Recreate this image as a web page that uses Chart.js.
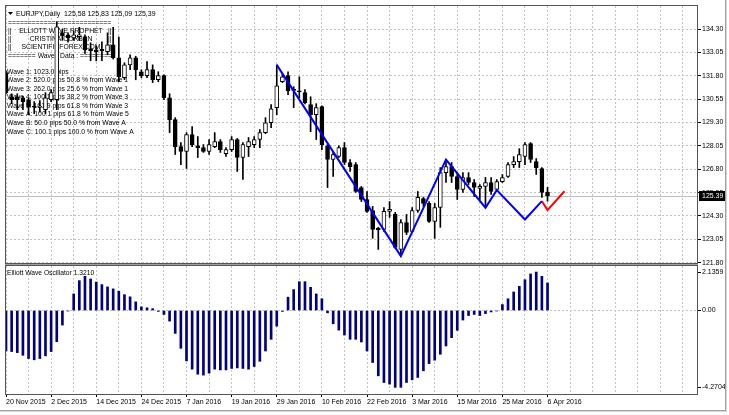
<!DOCTYPE html>
<html>
<head>
<meta charset="utf-8">
<script src="https://cdn.jsdelivr.net/npm/chart.js@4.4.1/dist/chart.umd.min.js"></script>
<style>
  html, body { margin: 0; padding: 0; background: #fff; }
  #wrap { position: relative; width: 729px; height: 415px; overflow: hidden; }
  #priceChart { position: absolute; left: 0; top: 0; }
  #oscChart { position: absolute; left: 0; top: 264px; }
  #winFrame { position: absolute; left: -1px; top: -1px; width: 726px; height: 411px;
    border-right: 1px solid #a0a0a0; border-bottom: 1px solid #a0a0a0;
    box-shadow: 1px 1px 0 #d8d8d8; pointer-events: none; }
</style>
</head>
<body>
<div id="wrap">
  <canvas id="priceChart" width="729" height="272"></canvas>
  <canvas id="oscChart" width="729" height="151"></canvas>
  <div id="winFrame"></div>
</div>
<script>
// EURJPY daily candles, 20 Nov 2015 .. 6 Apr 2016 (one entry per bar)
const opens = [131.97, 130.68, 130.68, 130.63, 130.52, 130.17, 130.12, 129.99, 130.52, 130.52,
  134.10, 133.99, 133.83, 133.90, 133.88, 133.25, 133.19, 133.22, 133.09, 133.46,
  132.77, 131.70, 132.39, 132.77, 132.02, 131.81, 132.13, 131.59, 131.81, 130.63,
  129.46, 128.01, 127.75, 128.65, 128.06, 127.96, 127.75, 128.01, 128.28, 127.64,
  127.85, 128.39, 127.43, 128.01, 128.12, 128.39, 128.76, 129.29, 130.10, 131.49,
  131.81, 131.08, 131.00, 130.90, 130.26, 129.72, 130.15, 128.06, 127.32, 127.48,
  127.96, 127.16, 127.05, 125.82, 125.18, 124.59, 123.64, 123.58, 124.54, 124.38,
  122.51, 123.95, 123.47, 124.59, 125.23, 124.97, 124.01, 124.75, 126.62, 126.94,
  126.41, 125.72, 126.36, 126.09, 125.77, 125.88, 126.09, 125.72, 126.14, 126.41,
  127.05, 127.21, 127.48, 128.17, 127.21, 126.84, 125.58];
const highs = [132.05, 130.84, 130.84, 130.70, 130.60, 130.42, 130.47, 130.90, 131.06, 134.69,
  134.30, 134.10, 134.20, 134.40, 134.00, 133.57, 133.40, 133.62, 134.10, 134.40,
  133.88, 132.50, 132.93, 132.85, 132.13, 132.56, 132.39, 132.02, 131.86, 130.84,
  129.56, 128.23, 128.76, 129.08, 128.55, 128.12, 128.39, 128.76, 128.39, 127.96,
  128.55, 128.45, 128.23, 128.50, 128.55, 128.92, 129.56, 130.26, 132.39, 131.91,
  132.02, 131.22, 131.75, 131.06, 130.68, 130.31, 130.20, 128.12, 127.75, 128.06,
  128.23, 127.32, 127.16, 125.88, 125.61, 124.81, 123.69, 124.75, 125.07, 124.49,
  124.11, 124.38, 124.75, 125.61, 125.29, 125.07, 124.97, 126.89, 127.32, 127.16,
  126.62, 126.62, 126.62, 126.25, 125.98, 126.36, 126.36, 126.25, 126.52, 127.16,
  127.48, 127.90, 128.23, 128.23, 127.37, 126.89, 125.83];
const lows = [130.85, 130.31, 129.99, 129.99, 129.72, 129.78, 129.85, 129.78, 130.42, 129.99,
  133.70, 133.60, 133.70, 133.70, 133.00, 132.61, 132.60, 132.61, 132.93, 132.70,
  131.49, 131.60, 132.13, 131.59, 131.70, 131.70, 131.44, 131.49, 130.52, 128.76,
  127.59, 127.05, 126.84, 128.01, 127.43, 127.70, 127.59, 127.96, 127.70, 127.48,
  127.75, 126.68, 126.25, 127.48, 127.96, 127.96, 128.70, 129.03, 129.72, 131.44,
  130.79, 130.10, 130.63, 130.30, 128.81, 128.39, 127.85, 125.82, 126.41, 127.43,
  127.05, 126.68, 125.56, 125.07, 124.49, 123.10, 122.51, 123.47, 124.22, 122.56,
  122.20, 123.30, 123.42, 124.49, 124.81, 123.95, 123.10, 123.69, 126.09, 126.09,
  125.18, 125.56, 125.98, 125.34, 125.18, 124.80, 125.45, 125.61, 126.09, 126.36,
  126.89, 126.89, 127.05, 127.16, 126.52, 125.29, 125.09];
const closes = [130.90, 130.52, 130.52, 130.42, 130.15, 130.12, 130.17, 130.63, 130.90, 134.42,
  133.94, 133.83, 133.99, 134.00, 133.19, 133.15, 133.09, 133.15, 133.46, 132.77,
  131.75, 132.39, 132.77, 132.13, 131.81, 132.13, 131.59, 131.81, 130.63, 129.46,
  128.01, 127.75, 128.65, 128.12, 127.96, 127.75, 128.12, 128.28, 127.85, 127.85,
  128.39, 127.43, 128.12, 128.28, 128.39, 128.76, 129.29, 130.04, 131.27, 131.75,
  131.00, 131.02, 130.95, 130.36, 129.72, 130.10, 128.12, 127.32, 127.59, 127.96,
  127.16, 126.94, 125.61, 125.18, 124.54, 123.58, 123.55, 124.54, 124.65, 122.62,
  123.95, 123.42, 124.59, 125.29, 124.97, 124.01, 124.75, 126.62, 126.94, 126.41,
  125.72, 126.36, 126.09, 125.82, 125.88, 126.09, 125.61, 126.14, 126.36, 127.05,
  127.21, 127.59, 128.12, 127.32, 126.89, 125.56, 125.39];

// Elliott Wave Oscillator, one value per bar
const oscValues = [-2.25, -2.28, -2.34, -2.49, -2.67, -2.74, -2.67, -2.52, -2.28, -1.73,
  -0.81, -0.03, 0.92, 1.66, 1.90, 1.75, 1.58, 1.44, 1.31, 1.20,
  1.07, 0.88, 0.76, 0.48, 0.20, 0.15, 0.10, -0.05, -0.22, -0.59,
  -1.27, -2.10, -2.80, -3.26, -3.54, -3.59, -3.48, -3.26, -3.30, -3.30,
  -3.22, -3.19, -3.22, -3.26, -3.11, -2.82, -2.25, -1.60, -0.87, -0.05,
  0.74, 1.16, 1.60, 1.60, 1.29, 0.92, 0.65, -0.13, -0.74, -1.09,
  -1.36, -1.60, -1.60, -1.75, -2.25, -2.89, -3.63, -4.00, -4.09, -4.2704,
  -4.27, -4.00, -3.85, -3.72, -3.35, -2.95, -2.76, -2.43, -1.97, -1.51,
  -1.10, -0.53, -0.28, -0.22, -0.28, -0.17, -0.08, -0.03, 0.33, 0.65,
  1.03, 1.34, 1.71, 2.03, 2.1359, 1.90, 1.53];

// wave zigzag (bar index, price)
const waveBars = [48, 70, 78, 85, 87, 92, 95];
const wavePrices = [132.39, 122.15, 127.32, 124.74, 125.68, 124.11, 125.09];
const projBars = [95, 96, 99];
const projPrices = [125.09, 124.61, 125.62];

// date labels, one every 8 bars
const dateLabels = ['20 Nov 2015', '2 Dec 2015', '14 Dec 2015', '24 Dec 2015', '7 Jan 2016',
  '19 Jan 2016', '29 Jan 2016', '10 Feb 2016', '22 Feb 2016', '3 Mar 2016',
  '15 Mar 2016', '25 Mar 2016', '6 Apr 2016'];
const priceTicks = [121.80, 123.05, 124.30, 125.55, 126.80, 128.05, 129.30, 130.55, 131.80, 133.05, 134.30];
const oscTicks = [-4.2704, 0, 2.1359];

const headerText = 'EURJPY,Daily  125,58 125,83 125,09 125,39';
const bannerLines = ['ELLIOTT WAVE PROPHET', 'CRISTINA CORBEN', 'SCIENTIFICFOREX.COM'];
const waveLines = [
  'Wave 1: 1023.0 pips',
  'Wave 2: 520.0 pips 50.8 % from Wave 1',
  'Wave 3: 262.0 pips 25.6 % from Wave 1',
  'Wave 4: 100.1 pips 38.2 % from Wave 3',
  'Wave 5: 161.9 pips 61.8 % from Wave 3',
  'Wave A: 100.1 pips 61.8 % from Wave 5',
  'Wave B: 50.0 pips 50.0 % from Wave A',
  'Wave C: 100.1 pips 100.0 % from Wave A'
];
const oscTitle = 'Elliott Wave Oscillator 1.3210';

const FONT = '"Liberation Sans", Arial, sans-serif';
Chart.defaults.font.family = FONT;
Chart.defaults.font.size = 7;
Chart.defaults.color = '#000';
Chart.defaults.animation = false;

const GRID = '#c4c4c4';
const barIdx = opens.map((_, i) => i);
const gridBars = [];
for (let b = 0; b <= 120; b += 4) gridBars.push(b);

function fillTo(ctx, ch, w) {
  let s = '';
  while (ctx.measureText(s + ch).width <= w) s += ch;
  return s;
}

function drawFrame(ctx, a) {
  ctx.save();
  ctx.strokeStyle = '#555';
  ctx.lineWidth = 1;
  ctx.strokeRect(a.left - 0.5, a.top - 0.5, a.right - a.left + 1, a.bottom - a.top + 1);
  ctx.restore();
}

// keep tick labels from pushing the plot area around
function noPad(s) {
  s.paddingTop = 0;
  s.paddingBottom = 0;
  s.paddingLeft = 0;
  s.paddingRight = 0;
}

// -------------------------------
// price panel
// -------------------------------
const priceOverlay = {
  id: 'priceOverlay',
  beforeDatasetsDraw(chart) {
    const { ctx, chartArea: a, scales } = chart;
    const last = closes[closes.length - 1];
    const py = Math.round(scales.y.getPixelForValue(last)) + 0.5;
    ctx.save();
    ctx.strokeStyle = '#c0c0c0';
    ctx.lineWidth = 1;
    ctx.beginPath();
    ctx.moveTo(a.left, py);
    ctx.lineTo(a.right, py);
    ctx.stroke();

    ctx.fillStyle = '#000';
    ctx.textBaseline = 'middle';
    ctx.beginPath();
    ctx.moveTo(8, 12); ctx.lineTo(13, 12); ctx.lineTo(10.5, 15);
    ctx.closePath();
    ctx.fill();
    ctx.font = '7px ' + FONT;
    ctx.fillText(headerText, 16, 14);

    ctx.font = '6.8px ' + FONT;
    ctx.fillText(fillTo(ctx, '=', 104), 8, 23);
    bannerLines.forEach((t, k) => {
      const yy = 31 + k * 8;
      ctx.textAlign = 'left';
      ctx.fillText('||', 8, yy);
      ctx.fillText('||', 108, yy);
      ctx.textAlign = 'center';
      ctx.fillText(t, 61, yy);
    });
    ctx.textAlign = 'left';
    const leftEq = fillTo(ctx, '=', 28);
    ctx.fillText(leftEq, 8, 56);
    const mid = ' Waves Data : ';
    const mx = 8 + ctx.measureText(leftEq).width;
    ctx.fillText(mid, mx, 56);
    const rx = mx + ctx.measureText(mid).width;
    ctx.fillText(fillTo(ctx, '=', 112 - rx), rx, 56);

    waveLines.forEach((t, k) => ctx.fillText(t, 7, 71.7 + k * 8.57));
    ctx.restore();
  },
  afterDraw(chart) {
    const { ctx, chartArea: a, scales } = chart;
    drawFrame(ctx, a);
    const last = closes[closes.length - 1];
    const py = Math.round(scales.y.getPixelForValue(last));
    ctx.save();
    ctx.fillStyle = '#000';
    ctx.fillRect(a.right + 2, py - 5, 27, 10);
    ctx.fillStyle = '#fff';
    ctx.font = '7px ' + FONT;
    ctx.textBaseline = 'middle';
    ctx.fillText(last.toFixed(2), a.right + 5, py + 0.5);
    ctx.restore();
  }
};

new Chart(document.getElementById('priceChart'), {
  type: 'bar',
  data: {
    datasets: [
      {
        type: 'line',
        data: waveBars.map((b, k) => ({ x: b, y: wavePrices[k] })),
        borderColor: '#0000ff',
        borderWidth: 2,
        pointRadius: 0,
        fill: false,
        order: 0
      },
      {
        type: 'line',
        data: projBars.map((b, k) => ({ x: b, y: projPrices[k] })),
        borderColor: '#ff0000',
        borderWidth: 2,
        pointRadius: 0,
        fill: false,
        order: 0
      },
      {
        data: barIdx.map(i => ({ x: i, y: [Math.min(opens[i], closes[i]), Math.max(opens[i], closes[i])] })),
        backgroundColor: barIdx.map(i => closes[i] >= opens[i] ? '#fff' : '#000'),
        borderColor: '#000',
        borderWidth: 1,
        borderSkipped: false,
        barThickness: 4,
        minBarLength: 1,
        grouped: false,
        order: 1
      },
      {
        data: barIdx.map(i => ({ x: i, y: [lows[i], highs[i]] })),
        backgroundColor: '#000',
        barThickness: 1,
        grouped: false,
        order: 2
      }
    ]
  },
  options: {
    responsive: false,
    layout: { padding: { left: 6, top: 6, right: 0, bottom: 9 } },
    plugins: { legend: { display: false }, tooltip: { enabled: false } },
    scales: {
      x: {
        type: 'linear',
        min: 0,
        max: 122.5,
        offset: false,
        afterBuildTicks: s => { s.ticks = gridBars.map(v => ({ value: v })); },
        ticks: { display: false },
        grid: { color: GRID, offset: false, drawTicks: false },
        border: { display: false, dash: [2, 2] },
        afterFit: s => { s.height = 0; noPad(s); }
      },
      y: {
        position: 'right',
        min: 121.78,
        max: 135.54,
        afterBuildTicks: s => { s.ticks = priceTicks.map(v => ({ value: v })); },
        ticks: { callback: v => v.toFixed(2), padding: 1 },
        grid: { color: GRID, tickLength: 4, tickColor: '#000', tickBorderDash: [] },
        border: { display: false, dash: [2, 2] },
        afterFit: s => { s.width = 32; noPad(s); }
      }
    }
  },
  plugins: [priceOverlay]
});

// -------------------------------
// oscillator panel
// -------------------------------
const oscOverlay = {
  id: 'oscOverlay',
  beforeDatasetsDraw(chart) {
    const { ctx } = chart;
    ctx.save();
    ctx.fillStyle = '#000';
    ctx.font = '6.7px ' + FONT;
    ctx.textBaseline = 'middle';
    ctx.fillText(oscTitle, 7, 9);
    ctx.restore();
  },
  afterDraw(chart) {
    const { ctx, chartArea: a } = chart;
    ctx.save();
    ctx.strokeStyle = '#a0a0a0';
    ctx.lineWidth = 2;
    ctx.beginPath();
    ctx.moveTo(a.left - 1, 1);
    ctx.lineTo(a.right + 1, 1);
    ctx.stroke();
    ctx.restore();
    drawFrame(ctx, a);
  }
};

new Chart(document.getElementById('oscChart'), {
  type: 'bar',
  data: {
    datasets: [{
      data: barIdx.map(i => ({ x: i, y: oscValues[i] })),
      backgroundColor: '#000080',
      barThickness: 2,
      grouped: false
    }]
  },
  options: {
    responsive: false,
    layout: { padding: { left: 6, top: 2, right: 0, bottom: 0 } },
    plugins: { legend: { display: false }, tooltip: { enabled: false } },
    scales: {
      x: {
        type: 'linear',
        min: 0,
        max: 122.5,
        offset: false,
        afterBuildTicks: s => { s.ticks = gridBars.map(v => ({ value: v })); },
        ticks: {
          autoSkip: false,
          maxRotation: 0,
          align: 'start',
          padding: 1,
          callback: v => (v % 8 === 0 && v / 8 < dateLabels.length) ? dateLabels[v / 8] : ''
        },
        grid: {
          color: GRID,
          offset: false,
          tickLength: 3,
          tickColor: c => (c.tick && c.tick.value % 8 === 0 && c.tick.value / 8 < dateLabels.length) ? '#000' : 'rgba(0,0,0,0)',
          tickBorderDash: []
        },
        border: { display: false, dash: [2, 2] },
        afterFit: s => { s.height = 21; noPad(s); }
      },
      y: {
        position: 'right',
        min: -4.6389,
        max: 2.4722,
        afterBuildTicks: s => { s.ticks = oscTicks.map(v => ({ value: v })); },
        ticks: { callback: v => v === 0 ? '0.00' : v.toFixed(4), padding: 1 },
        grid: {
          color: c => (c.tick && c.tick.value === 0) ? GRID : 'rgba(0,0,0,0)',
          tickLength: 4,
          tickColor: '#000',
          tickBorderDash: []
        },
        border: { display: false, dash: [2, 2] },
        afterFit: s => { s.width = 32; noPad(s); }
      }
    }
  },
  plugins: [oscOverlay]
});
</script>
</body>
</html>
